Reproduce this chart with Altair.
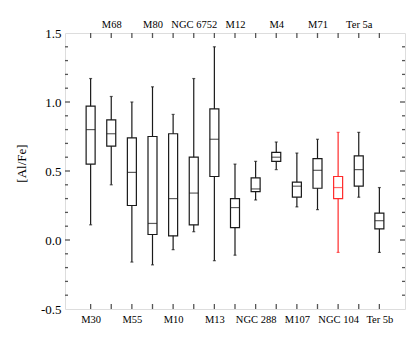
import altair as alt
import pandas as pd

names = ["M30", "M68", "M55", "M80", "M10", "NGC 6752", "M13", "M12",
         "NGC 288", "M4", "M107", "M71", "NGC 104", "Ter 5a", "Ter 5b"]
positions = list(range(1, 16))
whisk_lo = [0.11, 0.40, -0.16, -0.18, -0.07, 0.06, -0.15, -0.11, 0.29, 0.51, 0.24, 0.22, -0.09, 0.31, -0.09]
q1 = [0.55, 0.68, 0.25, 0.04, 0.03, 0.11, 0.46, 0.09, 0.35, 0.57, 0.31, 0.375, 0.30, 0.39, 0.08]
med = [0.80, 0.77, 0.49, 0.12, 0.30, 0.34, 0.73, 0.235, 0.37, 0.60, 0.39, 0.505, 0.38, 0.51, 0.14]
q3 = [0.97, 0.87, 0.74, 0.75, 0.77, 0.60, 0.95, 0.30, 0.45, 0.635, 0.42, 0.59, 0.46, 0.61, 0.195]
whisk_hi = [1.17, 1.04, 1.00, 1.11, 0.91, 1.17, 1.40, 0.55, 0.57, 0.71, 0.63, 0.73, 0.78, 0.78, 0.38]
group = ["std"] * 12 + ["red"] + ["std"] * 2

y_major = [-0.5, 0.0, 0.5, 1.0, 1.5]
y_minor = [-0.4, -0.3, -0.2, -0.1, 0.1, 0.2, 0.3, 0.4, 0.6, 0.7, 0.8, 0.9,
           1.1, 1.2, 1.3, 1.4]
y_major_inner = [0.0, 0.5, 1.0]

df = pd.DataFrame({"pos": positions, "name": names, "lo": whisk_lo, "q1": q1,
                   "med": med, "q3": q3, "hi": whisk_hi, "grp": group})

W, H = 340, 276
FONT = "Liberation Serif, Times New Roman, serif"
xs = alt.Scale(domain=[0, 16], nice=False, zero=False)
ys = alt.Scale(domain=[-0.5, 1.5], nice=False, zero=False)
cs = alt.Scale(domain=["std", "red"], range=["#1a1a1a", "#ff2a2a"])

names_js = "[" + ",".join("'" + n + "'" for n in names) + "]"

bottom_axis = alt.Axis(orient="bottom", values=positions, ticks=False, domain=False,
                       grid=False, labelFont=FONT, labelFontSize=10.5, labelColor="black",
                       labelPadding=5, title=None, labelOverlap=False,
                       labelExpr=f"datum.value % 2 == 1 ? {names_js}[datum.value - 1] : ''")
top_axis = alt.Axis(orient="top", values=positions, ticks=False, domain=False,
                    grid=False, labelFont=FONT, labelFontSize=10.5, labelColor="black",
                    labelPadding=4, title=None, labelOverlap=False,
                    labelExpr=f"datum.value % 2 == 0 ? {names_js}[datum.value - 1] : ''")
left_axis = alt.Axis(values=y_major, ticks=False, domain=False, grid=False,
                     labelFont=FONT, labelFontSize=13, labelColor="black", labelPadding=4,
                     labelExpr="(datum.value < 0 ? '-' : '') + format(abs(datum.value), '.1f')",
                     title="[Al/Fe]", titleFont=FONT, titleFontSize=13,
                     titleFontWeight="normal", titleColor="black", titlePadding=12,
                     titleY=130)

base = alt.Chart(df)
color = alt.Color("grp:N", scale=cs, legend=None)

whiskers = base.mark_rule(strokeWidth=1.2).encode(
    x=alt.X("pos:Q", scale=xs, axis=bottom_axis),
    y=alt.Y("lo:Q", scale=ys, axis=left_axis),
    y2="hi:Q",
    color=color,
)
caps = base.transform_fold(["lo", "hi"], as_=["k", "v"]).mark_tick(
    orient="horizontal", size=3, thickness=1.2).encode(
    x=alt.X("pos:Q", scale=xs, axis=None),
    y=alt.Y("v:Q", scale=ys, axis=None),
    color=color,
)
boxes = base.mark_bar(size=9, fill="white", strokeWidth=1.2, orient="vertical").encode(
    x=alt.X("pos:Q", scale=xs, axis=None),
    y=alt.Y("q1:Q", scale=ys, axis=None),
    y2="q3:Q",
    stroke=alt.Stroke("grp:N", scale=cs, legend=None),
)
medians = base.mark_tick(orient="horizontal", size=9, thickness=1.2).encode(
    x=alt.X("pos:Q", scale=xs, axis=top_axis),
    y=alt.Y("med:Q", scale=ys, axis=None),
    color=color,
)

tick_color = "#555"
xt = pd.DataFrame({"pos": positions})
ytm = pd.DataFrame({"v": y_minor})
ytM = pd.DataFrame({"v": y_major_inner})

def xticks(y0, y1):
    return alt.Chart(xt).mark_rule(color=tick_color, strokeWidth=1.3).encode(
        x=alt.X("pos:Q", scale=xs, axis=None), y=alt.value(y0), y2=alt.value(y1))

def yticks(d, x0, x1):
    return alt.Chart(d).mark_rule(color=tick_color, strokeWidth=1.3).encode(
        y=alt.Y("v:Q", scale=ys, axis=None), x=alt.value(x0), x2=alt.value(x1))

layers = [
    xticks(H, H - 5), xticks(0, 5),
    yticks(ytm, 0, 3), yticks(ytm, W, W - 3),
    yticks(ytM, 0, 5), yticks(ytM, W, W - 5),
    whiskers, caps, boxes, medians,
]

chart = alt.layer(*layers).resolve_axis(x="independent", y="independent").properties(
    width=W, height=H,
    autosize=alt.AutoSizeParams(type="none"),
    padding={"left": 57, "top": 25, "right": 2, "bottom": 30},
).configure_view(stroke="#666", strokeWidth=2).configure(
    background="white", font=FONT
).configure_axis(labelFont=FONT, titleFont=FONT)

chart.save("out.html", embed_options={"renderer": "svg", "actions": False})
